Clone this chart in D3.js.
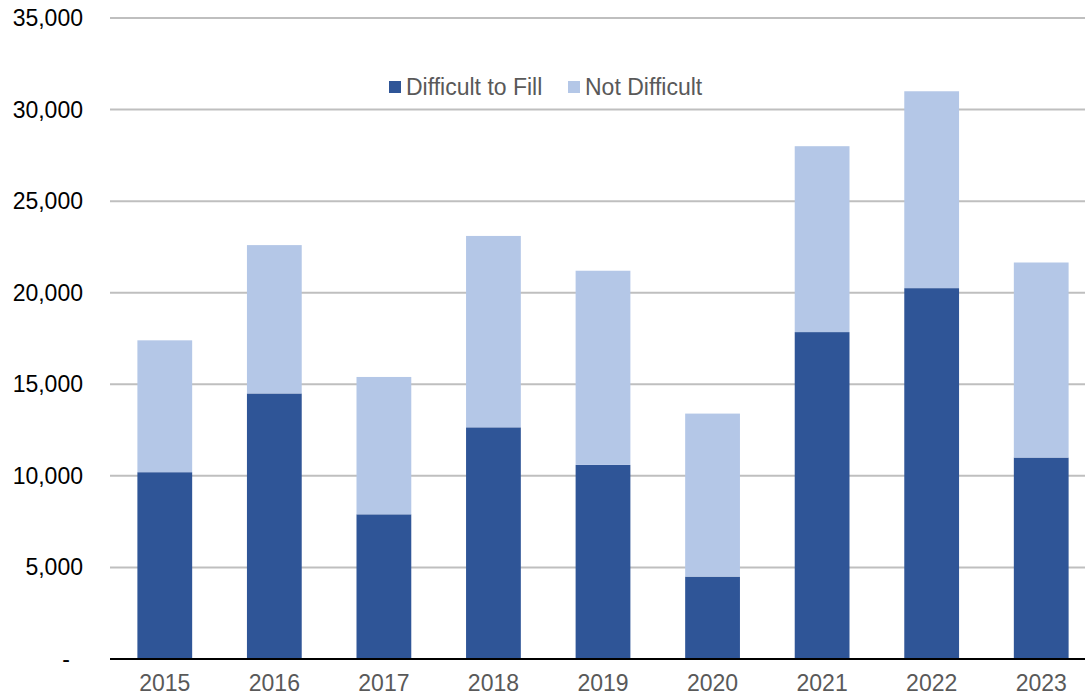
<!DOCTYPE html>
<html>
<head>
<meta charset="utf-8">
<script src="https://cdn.jsdelivr.net/npm/d3@7"></script>
<style>
  body { margin: 0; background: #fff; }
  svg { display: block; font-family: "Liberation Sans", Arial, sans-serif; }
</style>
</head>
<body>
<svg id="chart" width="1085" height="697"></svg>
<script>
const years = ["2015", "2016", "2017", "2018", "2019", "2020", "2021", "2022", "2023"];
const difficult = [10200, 14500, 7900, 12650, 10600, 4500, 17850, 20250, 11000];
const notDifficult = [7200, 8100, 7500, 10450, 10600, 8900, 10150, 10750, 10650];
const yTicks = [0, 5000, 10000, 15000, 20000, 25000, 30000, 35000];
const seriesNames = ["Difficult to Fill", "Not Difficult"];
const colors = ["#2F5597", "#B4C7E7"];

const svg = d3.select("#chart");
const margin = { top: 18, left: 110, bottom: 38 };
const height = 697;

const rows = years.map((y, i) => ({ year: y, d: difficult[i], n: notDifficult[i] }));
const stack = d3.stack().keys(["d", "n"])(rows);

const x = d3.scaleBand()
  .domain(years)
  .range([margin.left, 1096])
  .paddingInner(0.5)
  .paddingOuter(0.25);

const yScale = d3.scaleLinear()
  .domain([0, 35000])
  .range([height - margin.bottom, margin.top]);

// gridlines
svg.append("g")
  .selectAll("line")
  .data(yTicks.slice(1))
  .enter()
  .append("line")
  .attr("x1", margin.left)
  .attr("x2", 1085)
  .attr("y1", d => yScale(d))
  .attr("y2", d => yScale(d))
  .attr("stroke", "#BFBFBF")
  .attr("stroke-width", 2);

// y labels
const fmt = d3.format(",");
svg.append("g")
  .selectAll("text")
  .data(yTicks)
  .enter()
  .append("text")
  .attr("x", d => d === 0 ? 70 : 83)
  .attr("y", d => yScale(d))
  .attr("dy", "0.35em")
  .attr("text-anchor", "end")
  .attr("font-size", 23)
  .attr("fill", "#000")
  .text(d => d === 0 ? "-" : fmt(d));

// bars
svg.append("g")
  .selectAll("g")
  .data(stack)
  .enter()
  .append("g")
  .attr("fill", (d, i) => colors[i])
  .selectAll("rect")
  .data(d => d)
  .enter()
  .append("rect")
  .attr("x", d => x(d.data.year))
  .attr("width", x.bandwidth())
  .attr("y", d => yScale(d[1]))
  .attr("height", d => yScale(d[0]) - yScale(d[1]));

// baseline axis
const xAxis = svg.append("g")
  .attr("transform", `translate(0,${yScale(0)})`)
  .call(d3.axisBottom(x).tickSize(0).tickPadding(16));
xAxis.select(".domain")
  .attr("d", `M${margin.left},0H1085`)
  .attr("stroke", "#000")
  .attr("stroke-width", 2);
xAxis.selectAll("text")
  .attr("font-size", 23)
  .attr("font-family", "Liberation Sans, Arial, sans-serif")
  .attr("fill", "#595959");

// legend
const legend = svg.append("g").attr("transform", "translate(389,87)");
const legendX = [0, 179];
seriesNames.forEach((name, i) => {
  const g = legend.append("g").attr("transform", `translate(${legendX[i]},0)`);
  g.append("rect")
    .attr("x", 0).attr("y", -6)
    .attr("width", 12).attr("height", 12)
    .attr("fill", colors[i]);
  g.append("text")
    .attr("x", 17)
    .attr("dy", "0.35em")
    .attr("font-size", 23)
    .attr("fill", "#595959")
    .text(name);
});
</script>
</body>
</html>
